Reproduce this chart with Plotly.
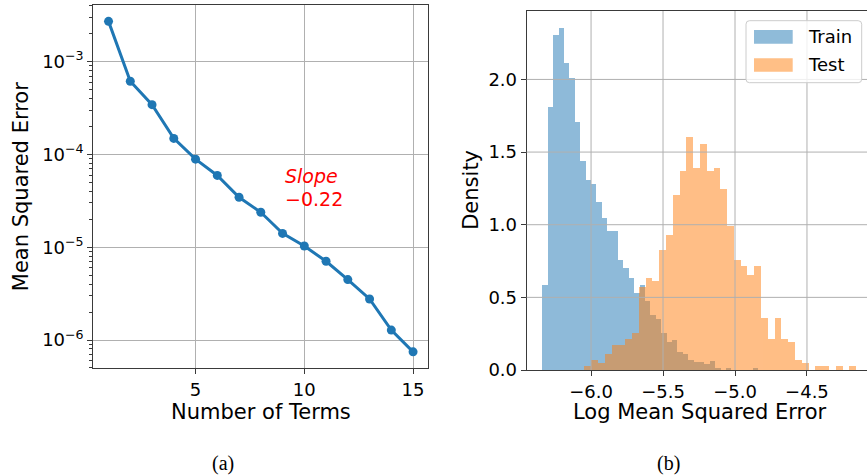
import plotly.graph_objects as go

# ---------------- data ----------------
# (a) error vs. number of expansion terms
terms = list(range(1, 16))
mse = [2.72e-3, 6.15e-4, 3.44e-4, 1.49e-4, 8.9e-5, 5.94e-5, 3.46e-5, 2.38e-5,
       1.41e-5, 1.03e-5, 7.06e-6, 4.48e-6, 2.77e-6, 1.28e-6, 7.45e-7]
mse_ticks = [1e-6, 1e-5, 1e-4, 1e-3]
mse_ticktext = ["10<sup>\u22126</sup>", "10<sup>\u22125</sup>",
                "10<sup>\u22124</sup>", "10<sup>\u22123</sup>"]
slope_label = "\u22120.22"

# (b) histograms of log MSE (density-normalised, 40 bins each)
train_start = -6.340
train_width = 0.0375
train_density = [0.585, 1.81, 2.305, 2.354, 2.113, 2.01, 1.707, 1.438, 1.308, 1.28,
                 1.156, 1.046, 0.957, 0.957, 0.757, 0.704, 0.633, 0.528, 0.583, 0.475,
                 0.379, 0.349, 0.253, 0.193, 0.206, 0.124, 0.11, 0.069, 0.057, 0.053,
                 0.039, 0.062, 0.014, 0.0, 0.016, 0.0, 0.0, 0.0, 0.0, 0.016]

test_start = -6.0486
test_width = 0.04722
test_density = [0.03, 0.069, 0.05, 0.112, 0.172, 0.172, 0.213, 0.257, 0.573, 0.631,
                0.615, 0.824, 0.929, 1.204, 1.37, 1.606, 1.39, 1.555, 1.37, 1.39,
                1.246, 0.991, 0.757, 0.716, 0.654, 0.716, 0.358, 0.213, 0.358, 0.213,
                0.193, 0.069, 0.048, 0.0, 0.0275, 0.0275, 0.0, 0.0275, 0.0, 0.0275]

hist_xticks = [-6.0, -5.5, -5.0, -4.5]
hist_yticks = [0.0, 0.5, 1.0, 1.5, 2.0]

# ---------------- layout helpers ----------------
W, H = 867, 476
BLUE = "#1f77b4"
ORANGE = "#ff7f0e"
SPINE = "#3a3a3a"
GRID = "#b0b0b0"
FONT = "DejaVu Sans"


def px(xp):
    return xp / W


def py(yp):
    return 1 - yp / H


def centers(start, width, n):
    return [start + width * (i + 0.5) for i in range(n)]


fig = go.Figure()

# (a) line with markers on log axis
fig.add_trace(go.Scatter(
    x=terms, y=mse, mode="lines+markers",
    line=dict(color=BLUE, width=3),
    marker=dict(color=BLUE, size=9),
    xaxis="x", yaxis="y", showlegend=False,
))

# (b) overlaid histograms
fig.add_trace(go.Bar(
    x=centers(train_start, train_width, len(train_density)), y=train_density,
    width=train_width, marker=dict(color=BLUE, line=dict(width=0)), opacity=0.5,
    name="Train", xaxis="x2", yaxis="y2", showlegend=False,
))
fig.add_trace(go.Bar(
    x=centers(test_start, test_width, len(test_density)), y=test_density,
    width=test_width, marker=dict(color=ORANGE, line=dict(width=0)), opacity=0.5,
    name="Test", xaxis="x2", yaxis="y2", showlegend=False,
))

tick_font = dict(family=FONT, size=18, color="black")
common = dict(showline=True, linecolor=SPINE, linewidth=1.1, ticks="outside",
              ticklen=5, tickwidth=1.1, tickcolor=SPINE, tickfont=tick_font,
              zeroline=False, automargin=False)

shapes = []
# grid lines of the histogram panel sit above the bars
for v in hist_xticks:
    shapes.append(dict(type="line", xref="x2", yref="y2 domain", x0=v, x1=v, y0=0, y1=1,
                       line=dict(color=GRID, width=1), layer="above"))
for v in hist_yticks[1:]:
    shapes.append(dict(type="line", xref="x2 domain", yref="y2", x0=0, x1=1, y0=v, y1=v,
                       line=dict(color=GRID, width=1), layer="above"))

# legend of panel (b)
lx0, lx1, ly0, ly1, r = 746, 861.7, 20.7, 82.7, 3.5
path = (f"M {px(lx0 + r)},{py(ly0)} L {px(lx1 - r)},{py(ly0)} "
        f"Q {px(lx1)},{py(ly0)} {px(lx1)},{py(ly0 + r)} L {px(lx1)},{py(ly1 - r)} "
        f"Q {px(lx1)},{py(ly1)} {px(lx1 - r)},{py(ly1)} L {px(lx0 + r)},{py(ly1)} "
        f"Q {px(lx0)},{py(ly1)} {px(lx0)},{py(ly1 - r)} L {px(lx0)},{py(ly0 + r)} "
        f"Q {px(lx0)},{py(ly0)} {px(lx0 + r)},{py(ly0)} Z")
shapes.append(dict(type="path", xref="paper", yref="paper", path=path,
                   fillcolor="rgba(255,255,255,0.8)", line=dict(color="#cccccc", width=1),
                   layer="above"))
legend_items = [("Train", BLUE, 30.0, 43.7), ("Test", ORANGE, 58.3, 71.7)]
for _, col, y0, y1 in legend_items:
    shapes.append(dict(type="rect", xref="paper", yref="paper",
                       x0=px(754), x1=px(792.7), y0=py(y1), y1=py(y0),
                       fillcolor=col, opacity=0.5, line=dict(width=0), layer="above"))

annotations = []
for label, _, y0, y1 in legend_items:
    annotations.append(dict(text=label, xref="paper", yref="paper", x=px(806),
                            y=py((y0 + y1) / 2), xanchor="left", yanchor="middle",
                            showarrow=False, font=dict(family=FONT, size=18, color="black")))

# slope note in panel (a)
annotations += [
    dict(text="<i>Slope</i>", xref="x", yref="y", x=9.0, y=-4.232, xanchor="left",
         yanchor="middle", showarrow=False, font=dict(family=FONT, size=19, color="red")),
    dict(text=slope_label, xref="x", yref="y", x=9.0, y=-4.48, xanchor="left",
         yanchor="middle", showarrow=False, font=dict(family=FONT, size=19, color="red")),
]

# axis titles
title_font = dict(family=FONT, size=21, color="black")
annotations += [
    dict(text="Mean Squared Error", xref="paper", yref="paper", x=px(21.7), y=py(186.5),
         textangle=-90, showarrow=False, font=title_font, xanchor="center", yanchor="middle"),
    dict(text="Number of Terms", xref="paper", yref="paper", x=px(261), y=py(412),
         showarrow=False, font=title_font, xanchor="center", yanchor="middle"),
    dict(text="Density", xref="paper", yref="paper", x=px(471.3), y=py(189.5),
         textangle=-90, showarrow=False, font=title_font, xanchor="center", yanchor="middle"),
    dict(text="Log Mean Squared Error", xref="paper", yref="paper", x=px(700), y=py(412),
         showarrow=False, font=title_font, xanchor="center", yanchor="middle"),
]

# sub-figure captions
cap_font = dict(family="Liberation Serif", size=20, color="black")
annotations += [
    dict(text="(a)", xref="paper", yref="paper", x=px(223), y=py(463), showarrow=False,
         font=cap_font, xanchor="center", yanchor="middle"),
    dict(text="(b)", xref="paper", yref="paper", x=px(668), y=py(463), showarrow=False,
         font=cap_font, xanchor="center", yanchor="middle"),
]

fig.update_layout(
    width=W, height=H, autosize=False,
    margin=dict(l=0, r=0, t=0, b=0, pad=0, autoexpand=False),
    paper_bgcolor="white", plot_bgcolor="white",
    barmode="overlay", bargap=0,
    showlegend=False,
    xaxis=dict(domain=[px(93.3), px(428.3)], range=[0.3, 15.7], tickvals=[5, 10, 15],
               showgrid=True, gridcolor=GRID, gridwidth=1, mirror=True, anchor="y", **common),
    yaxis=dict(domain=[py(368.3), py(5)], type="log", range=[-6.305, -2.389],
               tickmode="array", tickvals=mse_ticks, ticktext=mse_ticktext,
               showgrid=True, gridcolor=GRID, gridwidth=1, mirror=True, anchor="x",
               minor=dict(ticks="outside", ticklen=3, tickcolor=SPINE, tickwidth=1,
                          dtick="D1", showgrid=False),
               **common),
    xaxis2=dict(domain=[px(526.7), 1.0], range=[-6.447, -4.083], tickvals=hist_xticks,
                ticktext=[f"\u2212{abs(v):.1f}" for v in hist_xticks],
                showgrid=False, mirror=True, anchor="y2", **common),
    yaxis2=dict(domain=[py(370), py(11)], range=[0, 2.471], tickvals=hist_yticks,
                ticktext=[f"{v:.1f}" for v in hist_yticks],
                showgrid=False, mirror=False, anchor="x2", **common),
    shapes=shapes,
    annotations=annotations,
)

fig.write_html("out.html")
